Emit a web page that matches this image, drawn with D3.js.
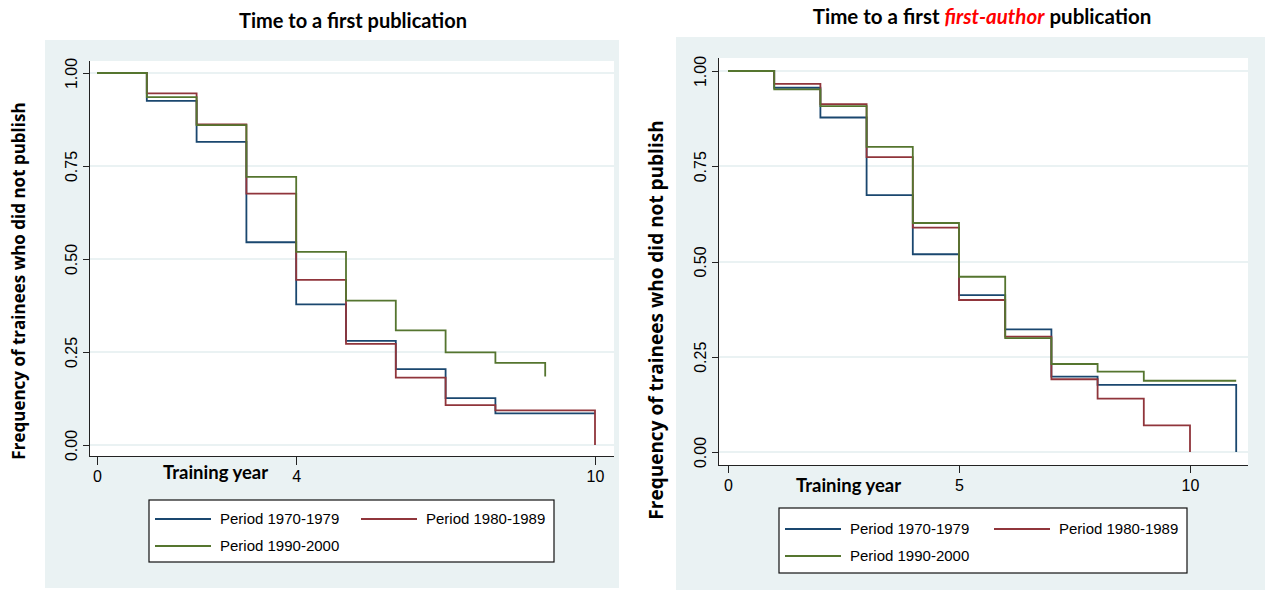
<!DOCTYPE html>
<meta charset="utf-8">
<style>
body { margin: 0; background: #fff; }
svg text { font-family: "Liberation Sans", Arial, sans-serif; fill: #000; }
.title, .xlab { font-family: Lato, "Open Sans", sans-serif; font-weight: bold; }
.ylab { font-family: "Open Sans", sans-serif; font-weight: bold; }
.axis path, .axis line { stroke: #222; shape-rendering: crispEdges; }
.grid line { stroke: #eaf2f3; stroke-width: 2px; shape-rendering: crispEdges; }
.km { fill: none; stroke-width: 1.8px; }
</style>
<body>
<script src="https://d3js.org/d3.v7.min.js"></script>
<script>

var periods = ["Period 1970-1979", "Period 1980-1989", "Period 1990-2000"];
var colors = ["#1a476f", "#90353b", "#55752f"];
var yTicks = [0, 0.25, 0.5, 0.75, 1];

// Time to a first publication (survival at start of each training year)
var pubYears = [0, 1, 2, 3, 4, 5, 6, 7, 8, 9, 10];
var pub7079 = [1.00, 0.925, 0.815, 0.545, 0.378, 0.280, 0.204, 0.126, 0.085, 0.085, 0.085];
var pub8089 = [1.00, 0.945, 0.862, 0.676, 0.444, 0.272, 0.181, 0.107, 0.093, 0.093, 0.000];
var pub9000 = [1.00, 0.935, 0.860, 0.721, 0.519, 0.388, 0.308, 0.249, 0.221, 0.184];
var pubTicks = [0, 4, 10];

// Time to a first first-author publication
var faYears = [0, 1, 2, 3, 4, 5, 6, 7, 8, 9, 10, 11];
var fa7079 = [1.00, 0.956, 0.878, 0.674, 0.519, 0.412, 0.322, 0.198, 0.176, 0.176, 0.176, 0.000];
var fa8089 = [1.00, 0.966, 0.913, 0.774, 0.589, 0.399, 0.303, 0.191, 0.140, 0.070, 0.000];
var fa9000 = [1.00, 0.952, 0.908, 0.801, 0.601, 0.460, 0.299, 0.231, 0.211, 0.187, 0.187, 0.187];
var faTicks = [0, 5, 10];

var svg = d3.select("body").append("svg")
    .attr("width", 1265)
    .attr("height", 592);

function panel(cfg) {
  var g = svg.append("g");

  g.append("rect")
      .attr("x", cfg.bg[0]).attr("y", cfg.bg[1])
      .attr("width", cfg.bg[2]).attr("height", cfg.bg[3])
      .attr("fill", "#eaf2f3");

  var px = cfg.plot[0], py = cfg.plot[1], pw = cfg.plot[2], ph = cfg.plot[3];
  g.append("rect")
      .attr("x", px).attr("y", py)
      .attr("width", pw).attr("height", ph)
      .attr("fill", "#fff");

  var x = d3.scaleLinear().domain([0, 10]).range(cfg.xr);
  var y = d3.scaleLinear().domain([0, 1]).range(cfg.yr);

  // grid
  g.append("g").attr("class", "grid")
    .selectAll("line").data(yTicks).enter().append("line")
      .attr("x1", px).attr("x2", px + pw)
      .attr("y1", function(d) { return y(d); })
      .attr("y2", function(d) { return y(d); });

  // y axis
  var ya = g.append("g").attr("class", "axis")
      .attr("transform", "translate(" + px + ",0)")
      .call(d3.axisLeft(y).tickValues(yTicks).tickFormat(d3.format(".2f")).tickSize(6));
  ya.select(".domain").attr("d", "M0," + py + "V" + (py + ph));
  ya.selectAll(".tick text")
      .attr("x", null)
      .attr("transform", "translate(" + (cfg.ytx - px) + ",0) rotate(-90)")
      .attr("dy", "0.35em")
      .attr("text-anchor", "middle")
      .attr("font-size", 16)
      .attr("fill", "#111");

  // x axis
  var xa = g.append("g").attr("class", "axis")
      .attr("transform", "translate(0," + (py + ph) + ")")
      .call(d3.axisBottom(x).tickValues(cfg.ticks).tickSize(cfg.tickLen).tickPadding(cfg.tickPad));
  xa.select(".domain").attr("d", "M" + px + ",0H" + (px + pw));
  xa.selectAll(".tick text").attr("font-size", 16).attr("fill", "#111");

  g.append("text").attr("class", "xlab")
      .attr("x", cfg.xlab[0]).attr("y", cfg.xlab[1])
      .attr("font-size", 18.5)
      .text("Training year");

  // survival curves
  var line = d3.line()
      .x(function(d) { return x(d[0]); })
      .y(function(d) { return y(d[1]); })
      .curve(d3.curveStepAfter);
  cfg.series.forEach(function(s, i) {
    g.append("path").attr("class", "km")
        .attr("stroke", colors[i])
        .attr("d", line(d3.zip(cfg.years.slice(0, s.length), s)));
  });

  // y label
  g.append("text").attr("class", "ylab")
      .attr("transform", "translate(" + cfg.ylab[0] + "," + cfg.ylab[1] + ") rotate(-90)")
      .attr("text-anchor", "middle")
      .attr("dy", "0.35em")
      .attr("font-size", cfg.ylabSize)
      .text("Frequency of trainees who did not publish");

  // title
  var t = g.append("text").attr("class", "title")
      .attr("x", cfg.title[0]).attr("y", cfg.title[1])
      .attr("text-anchor", "middle")
      .attr("font-size", cfg.titleSize);
  cfg.titleParts.forEach(function(p) {
    var ts = t.append("tspan").text(p.t);
    if (p.red) ts.attr("fill", "#ff0000").attr("font-style", "italic");
  });

  // legend
  var lb = cfg.legend;
  g.append("rect")
      .attr("x", lb[0]).attr("y", lb[1]).attr("width", lb[2]).attr("height", lb[3])
      .attr("fill", "#fff").attr("stroke", "#111").attr("stroke-width", 1.2);
  periods.forEach(function(p, i) {
    var col = i % 2, row = Math.floor(i / 2);
    var lx = lb[0] + 6 + col * cfg.legCol;
    var ly = lb[1] + cfg.legRow0 + row * cfg.legRowH;
    g.append("line")
        .attr("x1", lx).attr("x2", lx + 56)
        .attr("y1", ly).attr("y2", ly)
        .attr("stroke", colors[i]).attr("stroke-width", 1.8);
    g.append("text")
        .attr("x", lx + 65).attr("y", ly).attr("dy", "0.35em")
        .attr("font-size", 15)
        .text(p);
  });
}

panel({
  bg: [45, 40, 574, 548],
  plot: [89, 61, 525, 395],
  xr: [97, 595], yr: [445, 73],
  ytx: 71,
  ticks: pubTicks, tickLen: 9, tickPad: 6,
  xlab: [163, 479],
  years: pubYears,
  series: [pub7079, pub8089, pub9000],
  ylab: [19, 281], ylabSize: 17,
  title: [353, 28], titleSize: 20,
  titleParts: [{t: "Time to a first publication"}],
  legend: [149, 500, 405, 62], legCol: 206, legRow0: 19, legRowH: 27
});

panel({
  bg: [676, 37, 589, 553],
  plot: [718, 58, 530, 407],
  xr: [728, 1190], yr: [452, 71],
  ytx: 700,
  ticks: faTicks, tickLen: 8, tickPad: 7,
  xlab: [796, 492],
  years: faYears,
  series: [fa7079, fa8089, fa9000],
  ylab: [656, 320], ylabSize: 19,
  title: [982, 24], titleSize: 20.5,
  titleParts: [{t: "Time to a first "}, {t: "first-author", red: true}, {t: " publication"}],
  legend: [779, 508, 408, 65], legCol: 209, legRow0: 21, legRowH: 27
});

</script>
